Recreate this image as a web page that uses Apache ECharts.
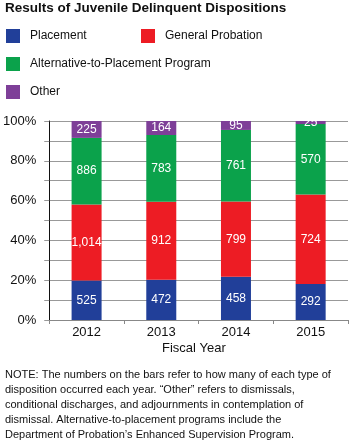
<!DOCTYPE html>
<html><head><meta charset="utf-8">
<script src="https://cdn.jsdelivr.net/npm/echarts@6/dist/echarts.min.js"></script>
<style>html,body{margin:0;padding:0;background:#fff}#c{width:349px;height:442px}</style>
</head><body><div id="c"></div>
<script>
var years = ['2012', '2013', '2014', '2015'];
var placement = [525, 472, 458, 292];
var generalProbation = [1014, 912, 799, 724];
var altPlacement = [886, 783, 761, 570];
var other = [225, 164, 95, 25];
var seriesNames = ['Placement', 'General Probation', 'Alternative-to-Placement Program', 'Other'];
var colors = ['#213f99', '#ed1c24', '#0ba24b', '#7e3f98'];
var yTicks = [0, 20, 40, 60, 80, 100];
var noteLines = [
  'NOTE: The numbers on the bars refer to how many of each type of',
  'disposition occurred each year. \u201cOther\u201d refers to dismissals,',
  'conditional discharges, and adjournments in contemplation of',
  'dismissal. Alternative-to-placement programs include the',
  'Department of Probation\u2019s Enhanced Supervision Program.'
];

var counts = [placement, generalProbation, altPlacement, other];
var totals = years.map(function (y, i) {
  return counts.reduce(function (s, arr) { return s + arr[i]; }, 0);
});
var font = 'Arial, "Liberation Sans", sans-serif';

var series = counts.map(function (arr, k) {
  return {
    name: seriesNames[k],
    type: 'bar',
    stack: 'all',
    barWidth: 30,
    itemStyle: { color: colors[k] },
    label: {
      show: true, position: 'inside', color: '#fff', fontSize: 12, fontFamily: font,
      formatter: function (p) { return arr[p.dataIndex].toLocaleString('en-US'); }
    },
    data: arr.map(function (v, i) { return v / totals[i] * 100; })
  };
});

function lg(name, left, top) {
  return {
    data: [name], left: left, top: top, itemWidth: 14, itemHeight: 14,
    icon: 'rect', padding: 0,
    textStyle: { fontSize: 12, fontFamily: font, color: '#111', padding: [0, 0, 0, 5] }
  };
}

var graphics = [{
  type: 'text', left: 162, top: 342,
  style: { text: 'Fiscal Year', font: '13px ' + font, fill: '#111' }
}];
noteLines.forEach(function (t, i) {
  graphics.push({
    type: 'text', left: 5, top: 369 + i * 15.2,
    style: { text: t, font: '11px ' + font, fill: '#111' }
  });
});

var chart = echarts.init(document.getElementById('c'), null, { renderer: 'canvas' });
chart.setOption({
  animation: false,
  title: {
    text: 'Results of Juvenile Delinquent Dispositions', left: 5, top: 1, padding: 0,
    textStyle: { fontSize: 13.5, fontWeight: 'bold', fontFamily: '"Liberation Sans Narrow", Arial, sans-serif', color: '#111' }
  },
  legend: [lg(seriesNames[0], 6, 29), lg(seriesNames[1], 141, 29), lg(seriesNames[2], 6, 57), lg(seriesNames[3], 6, 85)],
  grid: { left: 48, right: 1, top: 121, bottom: 122 },
  xAxis: {
    type: 'category', data: years, boundaryGap: true,
    axisLine: { lineStyle: { color: '#888' } },
    axisTick: { show: true, length: 4, lineStyle: { color: '#888' } },
    axisLabel: { fontSize: 13, fontFamily: font, color: '#111', margin: 6 }
  },
  yAxis: {
    type: 'value', min: 0, max: 100, interval: 10,
    axisLine: { show: true, lineStyle: { color: '#111' } },
    axisTick: { show: true, length: 5, lineStyle: { color: '#999' } },
    splitLine: { show: true, lineStyle: { color: '#999' } },
    axisLabel: {
      fontSize: 13, fontFamily: font, color: '#111', margin: 13,
      formatter: function (v) { return yTicks.indexOf(v) >= 0 ? v + '%' : ''; }
    }
  },
  graphic: graphics,
  series: series
});
</script></body></html>
